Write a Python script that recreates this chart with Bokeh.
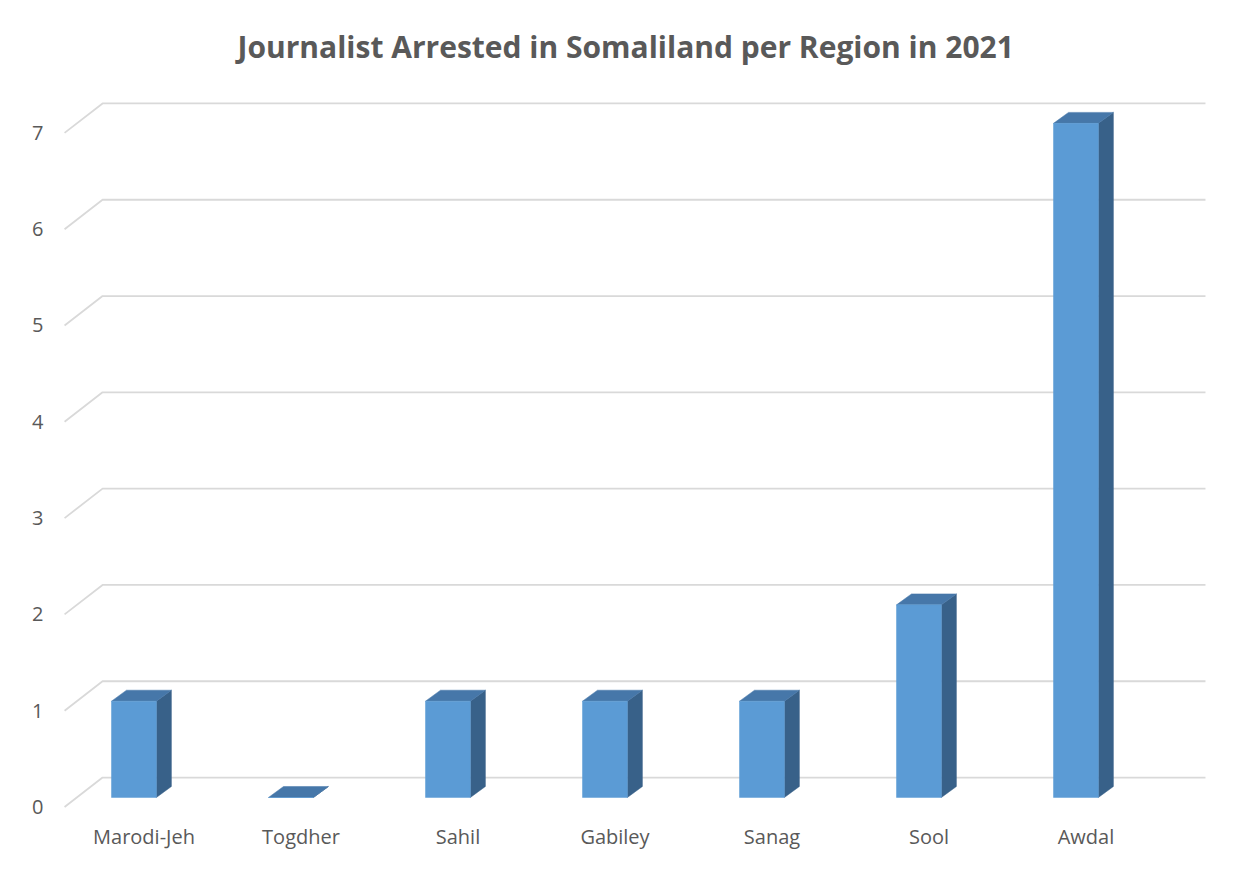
import numpy as np
from bokeh.plotting import figure
from bokeh.models import Range1d, FixedTicker, Title
from bokeh.embed import file_html
from bokeh.resources import INLINE

# ---- data ----
regions = ["Marodi-Jeh", "Togdher", "Sahil", "Gabiley", "Sanag", "Sool", "Awdal"]
arrests = [1, 0, 1, 1, 1, 2, 7]
y_ticks = [0, 1, 2, 3, 4, 5, 6, 7]
title_text = "Journalist Arrested in Somaliland per Region in 2021"

# ---- styling constants (3D look) ----
FRONT = "#5b9bd5"
TOP = "#4677a9"
SIDE = "#386189"
GRID = "#d9d9d9"
TEXT = "#595959"
FONT = "Open Sans"

bar_off = -0.064     # front face centre offset (x units)
bar_hw = 0.143       # front face half width
dep_x = 0.0955       # depth in x units
dep_y = 0.114        # depth in y units
base = 0.099         # front face base above front wall line
back = 0.306         # back wall offset
wall_x0, wall_x1, wall_end = -0.506, -0.264, 6.761

p = figure(width=1246, height=870, output_backend="svg", toolbar_location=None,
           x_range=Range1d(-0.59554, 6.85669), y_range=Range1d(-0.08827, 7.44029),
           min_border_left=50, min_border_right=26, min_border_top=90, min_border_bottom=55)
p.background_fill_color = "white"
p.border_fill_color = "white"
p.outline_line_color = None
p.xgrid.visible = False
p.ygrid.visible = False

t = Title(text=title_text, align="left", text_font=FONT, text_font_size="30px",
          text_font_style="bold", text_color=TEXT, standoff=47, offset=187)
p.title = t

# gridlines with perspective
for v in y_ticks:
    p.line([wall_x0, wall_x1, wall_end], [v, v + back, v + back], line_color=GRID, line_width=1.8)

idx = np.arange(len(regions))
vals = np.array(arrests, dtype=float)
xl = idx + bar_off - bar_hw
xr = idx + bar_off + bar_hw
yb = np.full(len(vals), base)
yt = vals + base

side_xs = [[r, r + dep_x, r + dep_x, r] for r in xr]
side_ys = [[b, b + dep_y, tp + dep_y, tp] for b, tp in zip(yb, yt)]
top_xs = [[l, r, r + dep_x, l + dep_x] for l, r in zip(xl, xr)]
top_ys = [[tp, tp, tp + dep_y, tp + dep_y] for tp in yt]

p.patches(side_xs, side_ys, fill_color=SIDE, line_color=SIDE, line_width=0.5)
p.patches(top_xs, top_ys, fill_color=TOP, line_color=TOP, line_width=0.5)
p.quad(left=xl, right=xr, bottom=yb, top=yt, fill_color=FRONT, line_color=FRONT, line_width=0.5)

# axes
xa = p.xaxis[0]
xa.ticker = FixedTicker(ticks=list(idx))
xa.major_label_overrides = {int(i): r for i, r in zip(idx, regions)}
ya = p.yaxis[0]
ya.ticker = FixedTicker(ticks=y_ticks)
for ax in (xa, ya):
    ax.axis_line_color = None
    ax.major_tick_line_color = None
    ax.minor_tick_line_color = None
    ax.major_tick_out = 0
    ax.major_tick_in = 0
    ax.major_label_text_font = FONT
    ax.major_label_text_font_size = "20px"
    ax.major_label_text_color = TEXT
xa.major_label_standoff = 7
ya.major_label_standoff = 7

open("out.html", "w").write(file_html(p, INLINE))
